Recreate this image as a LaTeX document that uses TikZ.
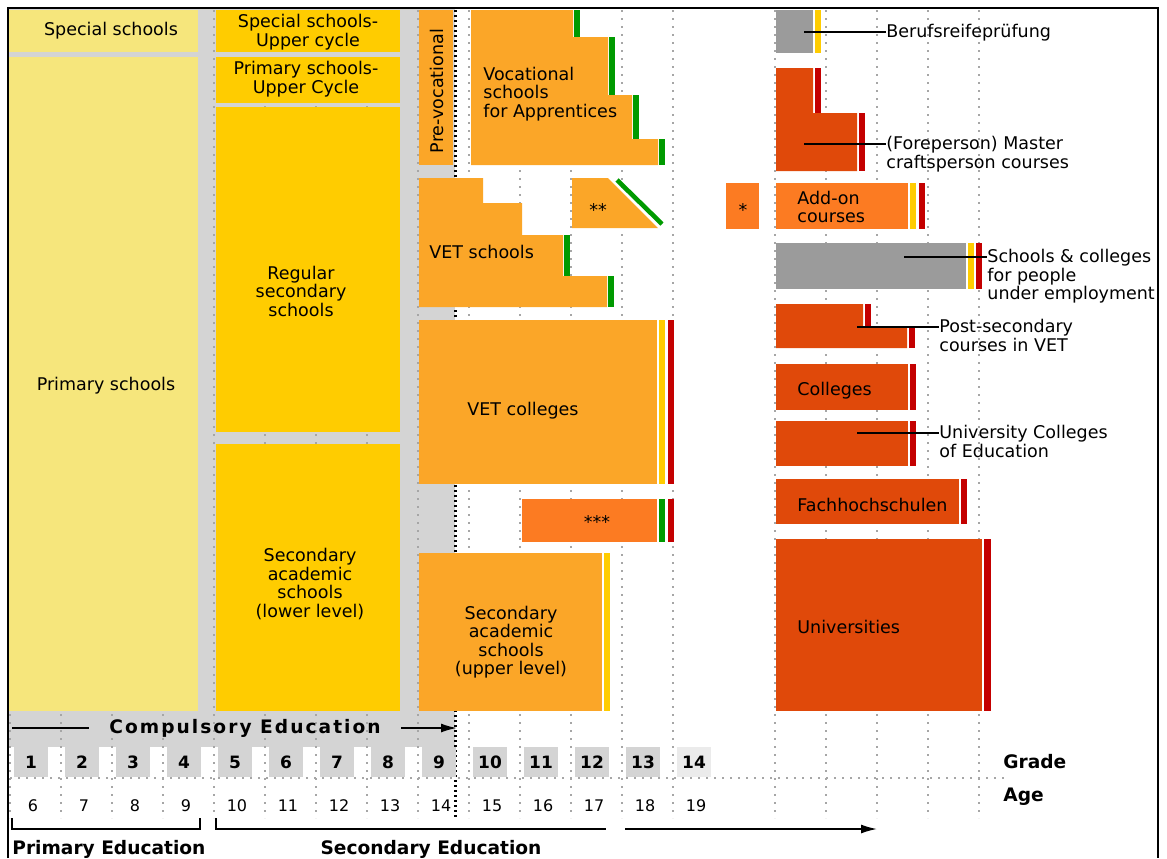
\documentclass[tikz,border=0pt]{standalone}
\usepackage{fontspec}
\setmainfont{DejaVu Sans}
\usetikzlibrary{arrows.meta}

\definecolor{paleyel}{HTML}{F6E67C}
\definecolor{gold}{HTML}{FFCC00}
\definecolor{amber}{HTML}{FBA628}
\definecolor{tangerine}{HTML}{FC7B22}
\definecolor{rust}{HTML}{E0490A}
\definecolor{slate}{HTML}{9B9B9B}
\definecolor{panel}{HTML}{D4D4D4}
\definecolor{barred}{HTML}{C40000}
\definecolor{bargreen}{HTML}{009A00}

\def\colstep{51}

\begin{document}
\begin{tikzpicture}[x=0.5pt,y=-0.5pt,
    every node/.style={inner sep=0pt, font=\fontsize{8.75}{9.25}\selectfont}]
        \tikzstyle{txt}=[align=center]
        \tikzstyle{ltxt}=[align=left, anchor=west]
        \tikzstyle{gridline}=[draw=black!35, line width=0.9pt, dash pattern=on 0.8pt off 3.2pt]
        \tikzstyle{leader}=[draw=black, line width=0.7pt]
        \tikzstyle{heavy}=[font=\fontsize{9.3}{10}\selectfont\bfseries]
        \tikzstyle{num}=[font=\fontsize{8.5}{9}\selectfont\bfseries]
        \tikzstyle{agenum}=[font=\fontsize{8}{9}\selectfont]

        \useasboundingbox (0,0) rectangle (1167,858);

        % Grey panel of compulsory schooling
        \fill[panel] (8,8) rectangle (455,747);

        % Year grid
        \foreach \k in {0,1,2,3,4,5,6,7,8,9,10,11,12,13,15,16,17,18,19}
            \draw[gridline] (10+\k*\colstep,10) -- (10+\k*\colstep,818);
        \draw[gridline] (10,778) -- (1005,778);
        \draw[line width=1.5pt, dash pattern=on 1pt off 1.5pt] (455,10) -- (455,818);

        % Primary level
        \fill[paleyel] (9,10) rectangle (198,52);
        \node[txt] (spec) at (111,31) {Special schools};
        \fill[paleyel] (9,57) rectangle (198,711);
        \node[txt] (prim) at (106,386) {Primary schools};

        % Lower secondary level
        \fill[gold] (216,10) rectangle (400,52);
        \node[txt] (ssuc) at (308,32) {Special schools-\\Upper cycle};
        \fill[gold] (216,57) rectangle (400,103);
        \node[txt] (psuc) at (306,79) {Primary schools-\\Upper Cycle};
        \fill[gold] (216,107) rectangle (400,432);
        \node[txt] (regs) at (301,291) {Regular\\secondary\\schools};
        \fill[gold] (216,444) rectangle (400,711);
        \node[txt] (sacl) at (310,584) {Secondary\\academic\\schools\\(lower level)};

        % Upper secondary level
        \fill[amber] (419,10) rectangle (453,165);
        \node[txt, rotate=90] (prev) at (437,91) {Pre-vocational};

        \fill[amber] (471,10) -- (573,10) -- (573,37) -- (608,37) -- (608,95) -- (632,95)
            -- (632,139) -- (658,139) -- (658,165) -- (471,165) -- cycle;
        \foreach \xa/\ya/\yb in {574/10/37, 609/37/95, 633/95/139, 659/139/165}
            \fill[bargreen] (\xa,\ya) rectangle (\xa+6,\yb);
        \node[ltxt] (voc) at (483,94) {Vocational\\schools\\for Apprentices};

        \fill[amber] (419,178) -- (483,178) -- (483,203) -- (522,203) -- (522,235) -- (563,235)
            -- (563,276) -- (607,276) -- (607,307) -- (419,307) -- cycle;
        \foreach \xa/\ya/\yb in {564/235/276, 608/276/307}
            \fill[bargreen] (\xa,\ya) rectangle (\xa+6,\yb);
        \node[ltxt] (vets) at (429,252) {VET schools};

        \fill[amber] (572,178) -- (608,178) -- (658,228) -- (572,228) -- cycle;
        \draw[bargreen, line width=2.3pt] (617,180) -- (662,224);
        \node[txt] (star2) at (598,210) {**};

        \fill[tangerine] (726,183) rectangle (759,229);
        \node[txt] (star1) at (743,210) {*};

        \fill[amber] (419,320) rectangle (657,484);
        \fill[gold] (659,320) rectangle (665,484);
        \fill[barred] (668,320) rectangle (674,484);
        \node[txt] (vetc) at (523,411) {VET colleges};

        \fill[tangerine] (522,499) rectangle (657,542);
        \fill[bargreen] (659,499) rectangle (665,542);
        \fill[barred] (668,499) rectangle (674,542);
        \node[txt] (star3) at (597,522) {***};

        \fill[amber] (419,553) rectangle (602,711);
        \fill[gold] (604,553) rectangle (610,711);
        \node[txt] (sacu) at (511,642) {Secondary\\academic\\schools\\(upper level)};

        % Post-secondary and tertiary level
        \fill[slate] (776,10) rectangle (813,53);
        \fill[gold] (815,10) rectangle (821,53);
        \coordinate (brp-pt) at (804,32);
        \node[ltxt] (brp) at (886,33) {Berufsreifeprüfung};

        \fill[rust] (776,68) -- (813,68) -- (813,113) -- (857,113) -- (857,171) -- (776,171) -- cycle;
        \foreach \xa/\ya/\yb in {815/68/113, 859/113/171}
            \fill[barred] (\xa,\ya) rectangle (\xa+6,\yb);
        \coordinate (mstr-pt) at (804,144);
        \node[ltxt, anchor=north west] (mstr) at (886,136) {(Foreperson) Master\\craftsperson courses};

        \fill[tangerine] (776,183) rectangle (908,229);
        \fill[gold] (910,183) rectangle (916,229);
        \fill[barred] (919,183) rectangle (925,229);
        \node[ltxt] (addon) at (797,207) {Add-on\\courses};

        \fill[slate] (776,243) rectangle (966,289);
        \fill[gold] (968,243) rectangle (974,289);
        \fill[barred] (976,243) rectangle (982,289);
        \coordinate (sce-pt) at (904,257);
        \node[ltxt, anchor=north west] (sce) at (987,249) {Schools \& colleges\\for people\\under employment};

        \fill[rust] (776,304) -- (863,304) -- (863,327) -- (907,327) -- (907,348) -- (776,348) -- cycle;
        \foreach \xa/\ya/\yb in {865/304/327, 909/327/348}
            \fill[barred] (\xa,\ya) rectangle (\xa+6,\yb);
        \coordinate (pscv-pt) at (857,327);
        \node[ltxt, anchor=north west] (pscv) at (939,319) {Post-secondary\\courses in VET};

        \fill[rust] (776,364) rectangle (908,410);
        \fill[barred] (910,364) rectangle (916,410);
        \node[ltxt] (coll) at (797,391) {Colleges};

        \fill[rust] (776,421) rectangle (908,466);
        \fill[barred] (910,421) rectangle (916,466);
        \coordinate (uce-pt) at (857,433);
        \node[ltxt, anchor=north west] (uce) at (939,425) {University Colleges\\of Education};

        \fill[rust] (776,479) rectangle (959,524);
        \fill[barred] (961,479) rectangle (967,524);
        \node[ltxt] (fhs) at (797,505) {Fachhochschulen};

        \fill[rust] (776,539) rectangle (982,711);
        \fill[barred] (984,539) rectangle (991,711);
        \node[ltxt] (univ) at (797,627) {Universities};

        % Leader lines to the labels
        \draw[leader] (brp-pt) -- (brp-pt -| brp.west);
        \draw[leader] (mstr-pt) -- (mstr-pt -| mstr.west);
        \draw[leader] (sce-pt) -- (sce-pt -| sce.west);
        \draw[leader] (pscv-pt) -- (pscv-pt -| pscv.west);
        \draw[leader] (uce-pt) -- (uce-pt -| uce.west);

        % Compulsory education
        \node[heavy, inner xsep=10pt] (comp) at (245,728) {\addfontfeature{LetterSpace=11}Compulsory Education};
        \coordinate (comp-l) at (12,728);
        \coordinate (comp-r) at (457,728);
        \draw[line width=0.9pt] (comp-l) -- (comp.west);
        \draw[line width=0.9pt, -{Latex[length=8pt,width=4.5pt]}] (comp.east) -- (comp-r);

        % Grades and ages
        \foreach \g in {1,...,13}
            \fill[panel] (14+\g*\colstep-\colstep,747) rectangle +(34,30);
        \fill[black!8] (14+13*\colstep,747) rectangle +(34,30);
        \foreach \g [evaluate=\g as \age using int(\g+5)] in {1,...,14}
        {
            \node[num] (g-\g) at (31+\g*\colstep-\colstep,762) {\g};
            \node[agenum] (a-\g) at (33+\g*\colstep-\colstep,806) {\age};
        }
        \node[heavy, anchor=west] (grade) at (1003,762) {Grade};
        \node[heavy, anchor=west] (age) at (1003,797) {Age};

        % Education levels
        \coordinate (pe-l) at (12,818);
        \coordinate (pe-r) at (200,818);
        \coordinate (se-l) at (216,818);
        \coordinate (se-r) at (606,829);
        \coordinate (hi-l) at (625,829);
        \coordinate (hi-r) at (877,829);
        \draw[line width=0.8pt] (pe-l) -- ++(0,11) -| (pe-r);
        \draw[line width=0.8pt] (se-l) |- (se-r);
        \draw[line width=0.8pt, -{Latex[length=8pt,width=4.5pt]}] (hi-l) -- (hi-r);
        \node[heavy, anchor=west] (pe) at (12,849) {Primary Education};
        \node[heavy] (se) at (431,849) {Secondary Education};

        % Frame
        \draw[line width=1pt] (8,858) -- (8,8) -- (1158,8) -- (1158,858);
\end{tikzpicture}
\end{document}
